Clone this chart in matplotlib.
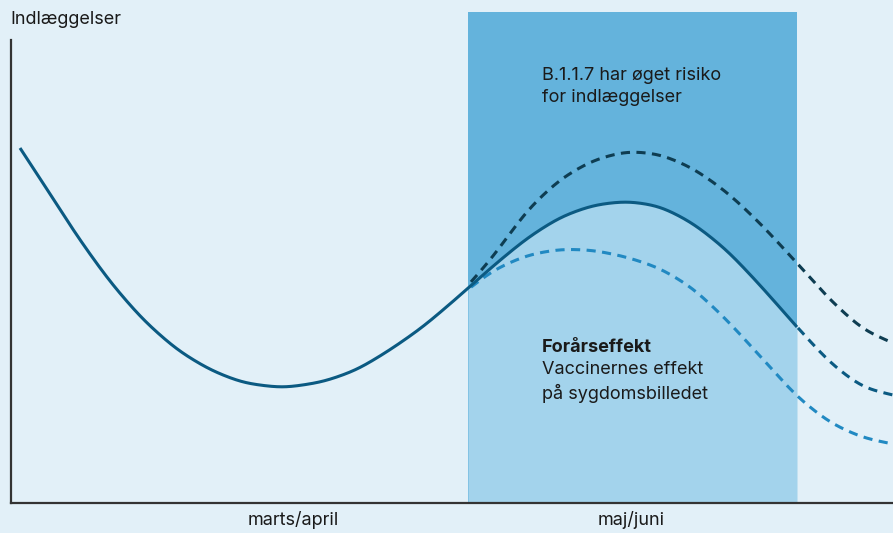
import numpy as np
import matplotlib
matplotlib.use("Agg")
import matplotlib.pyplot as plt

plt.rcParams['font.family'] = ['Inter', 'DejaVu Sans']

# ---- data (x: time position, y: hospitalisations, arbitrary units) ----
solid_x = [20, 43, 77, 110, 143, 177, 210, 243, 283, 323, 357, 390, 423, 457,
           493, 527, 560, 593, 627, 660, 693, 727, 760, 797]
solid_y = [355, 320, 267, 221, 183, 153, 133, 120, 115, 121, 133, 153, 176, 205,
           237, 265, 286, 298, 302, 297, 280, 253, 218, 176]

# continuation of the solid curve after the shaded period
mid_x = [727, 760, 797, 830, 863, 893]
mid_y = [253, 218, 176, 140, 115, 108]

# B.1.1.7 scenario (higher)
dark_x = [423, 457, 493, 527, 560, 593, 627, 660, 693, 727, 760, 797, 830, 863, 893]
dark_y = [176, 205, 246, 293, 324, 343, 352, 349, 335, 311, 280, 240, 203, 173, 160]

# spring / vaccine effect scenario (lower)
light_x = [423, 457, 493, 527, 560, 593, 627, 660, 693, 727, 760, 797, 830, 863, 893]
light_y = [176, 205, 233, 248, 254, 253, 246, 235, 215, 183, 147, 106, 80, 65, 59]

period_start, period_end = 468, 797
period_top = 491
tick_pos = [293, 631]
tick_labels = ["marts/april", "maj/juni"]


def smooth(xs, ys, sigma=11):
    """Dense linear interpolation of the read points, then Gaussian smoothing."""
    grid = np.arange(xs[0], xs[-1] + 0.25, 0.5)
    y = np.interp(grid, xs, ys)
    pad = int(8 * sigma)
    left = 2 * y[0] - y[1:pad + 1][::-1]
    right = 2 * y[-1] - y[-pad - 1:-1][::-1]
    yp = np.concatenate([left, y, right])
    k = np.arange(-pad, pad + 1) * 0.5
    kern = np.exp(-0.5 * (k / sigma) ** 2)
    kern /= kern.sum()
    ys_s = np.convolve(yp, kern, mode='same')[pad:-pad]
    return grid, ys_s


bg = '#e2f0f8'
fig = plt.figure(figsize=(8.93, 5.33), dpi=100, facecolor=bg)
ax = fig.add_axes([11/893, 30/533, 882/893, 491/533], facecolor=bg)
ax.set_xlim(11, 893)
ax.set_ylim(0, 491)

sx, sy = smooth(solid_x, solid_y)
mask = (sx >= period_start) & (sx <= period_end)
ax.fill_between([period_start, period_end], 0, period_top, color='#64b3dc', lw=0, zorder=1)
ax.fill_between(sx[mask], 0, sy[mask], color='#a3d3ec', lw=0, zorder=2)

lw = 2.2
dash = (3.0, 2.1)
dx, dy = smooth(dark_x, dark_y)
m = dx >= period_start + 3
ax.plot(dx[m], dy[m], color='#0e3d52', lw=lw, dashes=dash, zorder=3)
lx, ly = smooth(light_x, light_y)
m = lx >= period_start + 3
ax.plot(lx[m], ly[m], color='#2189c2', lw=lw, dashes=dash, zorder=3)
mx, my = smooth(mid_x, mid_y)
m = mx >= period_end + 1
ax.plot(mx[m], my[m], color='#0b5a82', lw=lw, dashes=dash, zorder=3)
ax.plot(sx, sy, color='#0b5a82', lw=lw, solid_capstyle='butt', zorder=4)

for s in ['top', 'right']:
    ax.spines[s].set_visible(False)
ax.spines['left'].set_bounds(0, 463)
for s in ['left', 'bottom']:
    ax.spines[s].set_color('#333333')
    ax.spines[s].set_linewidth(1.6)
ax.set_yticks([])
ax.set_xticks(tick_pos)
ax.set_xticklabels(tick_labels, fontsize=13, color='#1a1a1a')
ax.tick_params(axis='x', length=0, pad=6)

txt = dict(fontsize=13, color='#1a1a1a', ha='left', va='center')
fig.text(10/893, 1-20/533, 'Indlæggelser', **txt)
ax.text(542, 503-75, 'B.1.1.7 har øget risiko', **txt)
ax.text(542, 503-97, 'for indlæggelser', **txt)
ax.text(542, 503-348, 'Forårseffekt', fontweight='bold', **txt)
ax.text(542, 503-370, 'Vaccinernes effekt', **txt)
ax.text(542, 503-393, 'på sygdomsbilledet', **txt)

fig.savefig('out.png', dpi=100, facecolor=bg)
